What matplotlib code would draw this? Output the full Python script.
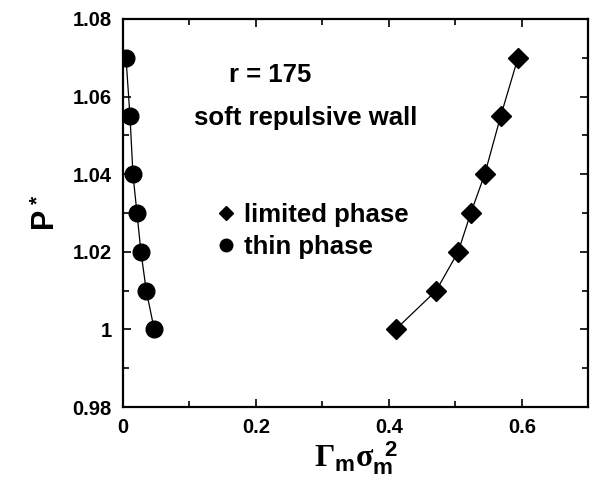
import matplotlib
matplotlib.use("Agg")
import matplotlib.pyplot as plt
from matplotlib.ticker import MultipleLocator

# reduced pressure P* for each phase
pressure = [1.00, 1.01, 1.02, 1.03, 1.04, 1.055, 1.07]
limited_gamma = [0.410, 0.471, 0.504, 0.523, 0.544, 0.568, 0.594]
thin_gamma = [0.047, 0.035, 0.027, 0.021, 0.015, 0.0105, 0.0045]

plt.rcParams["font.family"] = ["Liberation Sans", "DejaVu Sans"]
plt.rcParams["font.weight"] = "bold"
plt.rcParams["mathtext.fontset"] = "custom"
plt.rcParams["mathtext.rm"] = "Liberation Serif"
plt.rcParams["mathtext.it"] = "Liberation Serif:italic"
plt.rcParams["mathtext.bf"] = "Liberation Sans:bold"

fig = plt.figure(figsize=(5.93, 4.83), dpi=100)
ax = fig.add_axes([0.2074, 0.1573, 0.785, 0.8034])

ax.plot(limited_gamma, pressure, color="black", lw=0.9, marker="D",
        markersize=10, label="limited phase")
ax.plot(thin_gamma, pressure, color="black", lw=0.9, marker="o",
        markersize=12, label="thin phase")

ax.set_xlim(0, 0.7)
ax.set_ylim(0.98, 1.08)
ax.xaxis.set_major_locator(MultipleLocator(0.2))
ax.xaxis.set_minor_locator(MultipleLocator(0.1))
ax.yaxis.set_major_locator(MultipleLocator(0.02))
ax.yaxis.set_minor_locator(MultipleLocator(0.01))
ax.set_xticks([0, 0.2, 0.4, 0.6], ["0", "0.2", "0.4", "0.6"])
ax.set_yticks([0.98, 1.0, 1.02, 1.04, 1.06, 1.08],
              ["0.98", "1", "1.02", "1.04", "1.06", "1.08"])
ax.tick_params(which="both", direction="in", top=True, right=True,
               labelsize=14.5, width=1.2)
ax.tick_params(which="major", length=6, pad=8)
ax.tick_params(which="minor", length=4)
for s in ax.spines.values():
    s.set_linewidth(1.6)

ax.set_xlabel(r"$\Gamma_{\mathbf{m}}\mathrm{\sigma}_{\mathbf{m}}^{\ \ \mathbf{2}}$",
              fontsize=23, labelpad=2)
ax.set_ylabel(r"$\mathbf{P}^{\ \mathbf{*}}$", fontsize=22, labelpad=8)

ax.text(0.221, 1.0656, "r = 175", fontsize=18.5, fontweight="bold",
        ha="center", va="center")
ax.text(0.274, 1.0545, "soft repulsive wall", fontsize=18.5,
        fontweight="bold", ha="center", va="center")

leg = ax.legend(loc="upper left", bbox_to_anchor=(0.155, 0.585),
                frameon=False, handlelength=0.6, handletextpad=0.4,
                labelspacing=0.3, markerscale=0.75,
                prop={"weight": "bold", "size": 18.5})
# markers only in the key, no line stubs
for h in leg.legend_handles:
    h.set_linestyle("none")

fig.savefig("out.png", dpi=100)
